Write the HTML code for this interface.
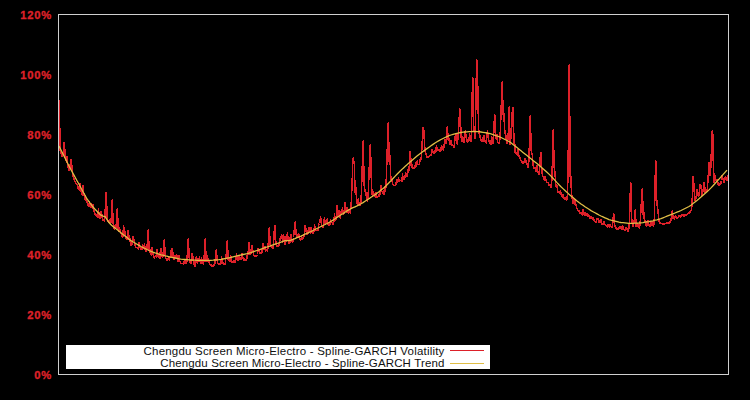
<!DOCTYPE html>
<html><head><meta charset="utf-8"><title>Spline-GARCH</title>
<style>
html,body{margin:0;padding:0;background:#000;}
#c{position:relative;width:750px;height:400px;background:#000;overflow:hidden;font-family:"Liberation Sans",sans-serif;}
.t{position:absolute;left:0;width:52px;-webkit-text-stroke:0.35px #dd2029;text-align:right;color:#dd2029;font-weight:bold;font-size:11.2px;letter-spacing:0.8px;line-height:14px;height:14px;}
#b{position:absolute;left:58px;top:14px;width:671px;height:361px;border:1px solid #cfcfcf;box-sizing:border-box;}
svg{position:absolute;left:0;top:0;}
#lg{position:absolute;left:66px;top:345px;width:424px;height:24px;background:#fff;}
.l{position:absolute;right:45.5px;white-space:nowrap;color:#111;font-size:11.5px;line-height:13px;letter-spacing:0.2px;}
</style></head><body>
<div id="c">
<div class="t" style="top:7.7px">120%</div><div class="t" style="top:67.7px">100%</div><div class="t" style="top:127.7px">80%</div><div class="t" style="top:187.7px">60%</div><div class="t" style="top:247.7px">40%</div><div class="t" style="top:307.7px">20%</div><div class="t" style="top:367.7px">0%</div>
<svg width="750" height="400" viewBox="0 0 750 400">
<path d="M59.0,100.0 L59.5,101.0 L60.0,150.1 L60.5,151.8 L61.0,152.4 L61.5,156.2 L62.0,157.1 L62.5,153.1 L63.0,155.3 L63.5,149.6 L64.0,142.0 L64.5,143.0 L65.0,154.3 L65.5,160.9 L66.0,156.5 L66.5,163.4 L67.0,156.0 L67.5,163.1 L68.0,166.5 L68.5,170.1 L69.0,171.0 L69.5,164.5 L70.0,168.2 L70.5,165.2 L71.0,159.0 L71.5,159.9 L72.0,168.8 L72.5,173.2 L73.0,176.4 L73.5,177.4 L74.0,178.9 L74.5,180.8 L75.0,181.6 L75.5,182.8 L76.0,183.7 L76.5,184.6 L77.0,184.4 L77.5,185.6 L78.0,188.7 L78.5,185.8 L79.0,188.2 L79.5,190.9 L80.0,182.8 L80.5,187.6 L81.0,191.5 L81.5,192.7 L82.0,194.9 L82.5,195.1 L83.0,185.2 L83.5,191.3 L84.0,194.3 L84.5,197.9 L85.0,199.8 L85.5,195.0 L86.0,200.7 L86.5,200.4 L87.0,202.2 L87.5,202.9 L88.0,205.1 L88.5,206.6 L89.0,206.0 L89.5,201.0 L90.0,204.1 L90.5,207.2 L91.0,208.2 L91.5,203.1 L92.0,207.0 L92.5,208.6 L93.0,203.9 L93.5,208.7 L94.0,210.9 L94.5,212.9 L95.0,215.1 L95.5,213.7 L96.0,215.4 L96.5,216.3 L97.0,215.9 L97.5,217.4 L98.0,217.3 L98.5,207.9 L99.0,215.2 L99.5,216.1 L100.0,218.5 L100.5,217.4 L101.0,211.5 L101.5,210.9 L102.0,216.4 L102.5,218.7 L103.0,220.4 L103.5,219.0 L104.0,220.6 L104.5,221.6 L105.0,213.1 L105.5,204.9 L106.0,192.0 L106.5,192.7 L107.0,217.3 L107.5,220.5 L108.0,221.2 L108.5,222.7 L109.0,222.1 L109.5,219.1 L110.0,222.9 L110.5,220.6 L111.0,223.0 L111.5,213.0 L112.0,200.0 L112.5,200.4 L113.0,223.4 L113.5,223.9 L114.0,226.7 L114.5,230.0 L115.0,225.7 L115.5,228.5 L116.0,227.9 L116.5,219.7 L117.0,209.0 L117.5,209.4 L118.0,224.9 L118.5,232.3 L119.0,227.8 L119.5,227.2 L120.0,230.5 L120.5,233.5 L121.0,233.5 L121.5,233.6 L122.0,235.6 L122.5,237.9 L123.0,236.1 L123.5,225.0 L124.0,228.0 L124.5,228.4 L125.0,233.3 L125.5,236.0 L126.0,238.3 L126.5,237.6 L127.0,239.6 L127.5,232.5 L128.0,231.2 L128.5,229.7 L129.0,239.6 L129.5,235.7 L130.0,240.3 L130.5,243.6 L131.0,245.6 L131.5,241.4 L132.0,241.9 L132.5,244.5 L133.0,236.0 L133.5,240.5 L134.0,238.7 L134.5,243.7 L135.0,245.4 L135.5,246.4 L136.0,247.5 L136.5,247.3 L137.0,247.2 L137.5,248.8 L138.0,248.5 L138.5,249.9 L139.0,241.9 L139.5,246.4 L140.0,248.2 L140.5,247.3 L141.0,249.6 L141.5,247.7 L142.0,250.3 L142.5,243.7 L143.0,246.1 L143.5,248.4 L144.0,249.0 L144.5,242.6 L145.0,248.5 L145.5,251.6 L146.0,251.8 L146.5,247.9 L147.0,248.7 L147.5,240.5 L148.0,230.0 L148.5,230.3 L149.0,251.0 L149.5,246.8 L150.0,251.7 L150.5,253.1 L151.0,254.8 L151.5,255.1 L152.0,247.4 L152.5,252.7 L153.0,253.4 L153.5,255.4 L154.0,256.1 L154.5,258.7 L155.0,255.9 L155.5,256.0 L156.0,256.0 L156.5,258.1 L157.0,249.3 L157.5,252.6 L158.0,255.4 L158.5,257.9 L159.0,257.7 L159.5,258.3 L160.0,252.4 L160.5,258.8 L161.0,248.1 L161.5,253.1 L162.0,256.1 L162.5,258.2 L163.0,255.5 L163.5,248.7 L164.0,240.0 L164.5,240.1 L165.0,253.1 L165.5,258.5 L166.0,258.2 L166.5,258.9 L167.0,260.1 L167.5,260.1 L168.0,260.1 L168.5,256.4 L169.0,259.7 L169.5,260.3 L170.0,255.8 L170.5,258.3 L171.0,252.6 L171.5,248.1 L172.0,257.0 L172.5,248.5 L173.0,254.7 L173.5,257.7 L174.0,259.7 L174.5,257.0 L175.0,255.0 L175.5,255.6 L176.0,258.2 L176.5,254.1 L177.0,255.6 L177.5,258.4 L178.0,261.2 L178.5,261.6 L179.0,255.2 L179.5,260.1 L180.0,262.1 L180.5,262.1 L181.0,263.3 L181.5,263.5 L182.0,263.4 L182.5,263.6 L183.0,263.7 L183.5,263.5 L184.0,264.2 L184.5,258.7 L185.0,261.7 L185.5,262.1 L186.0,262.7 L186.5,264.1 L187.0,259.3 L187.5,250.4 L188.0,239.0 L188.5,239.1 L189.0,255.7 L189.5,260.1 L190.0,262.9 L190.5,263.5 L191.0,263.1 L191.5,256.7 L192.0,254.2 L192.5,253.0 L193.0,259.1 L193.5,262.5 L194.0,264.0 L194.5,266.3 L195.0,266.2 L195.5,256.6 L196.0,260.6 L196.5,256.1 L197.0,261.4 L197.5,263.4 L198.0,257.7 L198.5,261.9 L199.0,261.1 L199.5,255.6 L200.0,262.3 L200.5,261.4 L201.0,264.1 L201.5,257.3 L202.0,261.5 L202.5,263.8 L203.0,262.4 L203.5,265.1 L204.0,260.2 L204.5,250.9 L205.0,239.0 L205.5,239.0 L206.0,261.6 L206.5,260.3 L207.0,255.0 L207.5,260.5 L208.0,262.0 L208.5,257.9 L209.0,262.3 L209.5,263.9 L210.0,264.4 L210.5,265.5 L211.0,265.3 L211.5,264.9 L212.0,267.2 L212.5,265.7 L213.0,265.7 L213.5,266.4 L214.0,264.6 L214.5,265.1 L215.0,262.2 L215.5,256.9 L216.0,250.0 L216.5,250.0 L217.0,259.3 L217.5,263.3 L218.0,263.1 L218.5,263.9 L219.0,264.7 L219.5,263.8 L220.0,264.5 L220.5,264.0 L221.0,263.3 L221.5,255.8 L222.0,259.5 L222.5,261.8 L223.0,263.3 L223.5,264.0 L224.0,264.7 L224.5,264.3 L225.0,264.9 L225.5,261.9 L226.0,256.7 L226.5,251.2 L227.0,241.0 L227.5,240.9 L228.0,259.4 L228.5,259.2 L229.0,260.5 L229.5,261.8 L230.0,260.9 L230.5,254.8 L231.0,257.6 L231.5,261.9 L232.0,262.3 L232.5,260.8 L233.0,262.6 L233.5,261.0 L234.0,261.0 L234.5,261.5 L235.0,263.2 L235.5,258.8 L236.0,259.1 L236.5,252.8 L237.0,259.4 L237.5,258.8 L238.0,260.3 L238.5,258.8 L239.0,255.2 L239.5,259.8 L240.0,257.3 L240.5,259.6 L241.0,259.5 L241.5,256.5 L242.0,253.2 L242.5,255.2 L243.0,258.3 L243.5,260.4 L244.0,259.6 L244.5,257.8 L245.0,260.3 L245.5,260.5 L246.0,260.3 L246.5,258.3 L247.0,259.2 L247.5,251.5 L248.0,255.4 L248.5,249.7 L249.0,242.4 L249.5,242.3 L250.0,254.9 L250.5,254.3 L251.0,253.1 L251.5,251.3 L252.0,245.4 L252.5,251.9 L253.0,250.1 L253.5,254.3 L254.0,255.8 L254.5,256.3 L255.0,256.1 L255.5,255.5 L256.0,256.5 L256.5,255.4 L257.0,255.9 L257.5,254.5 L258.0,248.3 L258.5,250.5 L259.0,249.9 L259.5,253.4 L260.0,253.1 L260.5,252.8 L261.0,252.1 L261.5,253.3 L262.0,252.4 L262.5,245.3 L263.0,242.7 L263.5,248.9 L264.0,249.4 L264.5,245.8 L265.0,247.3 L265.5,252.4 L266.0,249.1 L266.5,249.5 L267.0,250.0 L267.5,252.2 L268.0,246.8 L268.5,238.6 L269.0,228.0 L269.5,227.8 L270.0,243.5 L270.5,245.9 L271.0,245.4 L271.5,247.9 L272.0,247.7 L272.5,248.8 L273.0,248.6 L273.5,244.7 L274.0,236.3 L274.5,225.6 L275.0,225.4 L275.5,239.0 L276.0,243.2 L276.5,246.0 L277.0,246.5 L277.5,245.9 L278.0,246.7 L278.5,242.7 L279.0,245.2 L279.5,244.9 L280.0,237.8 L280.5,238.7 L281.0,237.5 L281.5,235.0 L282.0,234.8 L282.5,242.7 L283.0,239.6 L283.5,233.7 L284.0,238.7 L284.5,242.0 L285.0,244.6 L285.5,235.9 L286.0,241.8 L286.5,236.3 L287.0,236.4 L287.5,232.0 L288.0,239.4 L288.5,243.2 L289.0,244.0 L289.5,236.9 L290.0,242.2 L290.5,242.0 L291.0,234.3 L291.5,239.3 L292.0,241.6 L292.5,242.5 L293.0,241.0 L293.5,237.5 L294.0,232.8 L294.5,227.4 L295.0,222.0 L295.5,221.8 L296.0,234.5 L296.5,233.8 L297.0,237.8 L297.5,237.7 L298.0,235.7 L298.5,233.4 L299.0,235.5 L299.5,239.2 L300.0,238.9 L300.5,240.2 L301.0,239.7 L301.5,235.7 L302.0,238.4 L302.5,239.3 L303.0,239.0 L303.5,237.2 L304.0,236.2 L304.5,231.5 L305.0,225.6 L305.5,225.4 L306.0,229.7 L306.5,233.5 L307.0,234.0 L307.5,235.2 L308.0,231.9 L308.5,227.7 L309.0,227.5 L309.5,232.3 L310.0,229.4 L310.5,234.2 L311.0,227.5 L311.5,231.7 L312.0,232.9 L312.5,231.6 L313.0,233.8 L313.5,230.0 L314.0,232.2 L314.5,224.5 L315.0,228.1 L315.5,229.7 L316.0,230.9 L316.5,230.7 L317.0,230.1 L317.5,231.1 L318.0,230.4 L318.5,227.4 L319.0,223.7 L319.5,223.5 L320.0,222.0 L320.5,216.4 L321.0,220.2 L321.5,225.5 L322.0,226.7 L322.5,227.6 L323.0,227.1 L323.5,224.7 L324.0,220.5 L324.5,217.5 L325.0,223.0 L325.5,225.2 L326.0,221.5 L326.5,223.0 L327.0,219.0 L327.5,218.8 L328.0,224.7 L328.5,225.4 L329.0,225.1 L329.5,224.8 L330.0,225.2 L330.5,219.3 L331.0,221.7 L331.5,222.3 L332.0,222.1 L332.5,223.0 L333.0,224.4 L333.5,223.2 L334.0,221.5 L334.5,213.2 L335.0,218.8 L335.5,220.6 L336.0,218.9 L336.5,213.1 L337.0,205.6 L337.5,205.3 L338.0,216.8 L338.5,210.8 L339.0,210.7 L339.5,215.5 L340.0,217.1 L340.5,218.5 L341.0,211.3 L341.5,211.4 L342.0,212.6 L342.5,206.8 L343.0,211.8 L343.5,213.9 L344.0,214.2 L344.5,209.0 L345.0,202.4 L345.5,202.1 L346.0,210.5 L346.5,208.8 L347.0,212.6 L347.5,207.0 L348.0,210.5 L348.5,213.8 L349.0,209.0 L349.5,210.4 L350.0,212.9 L350.5,213.0 L351.0,206.4 L351.5,197.5 L352.0,185.4 L352.5,171.7 L353.0,158.0 L353.5,157.8 L354.0,163.0 L354.5,162.8 L355.0,193.3 L355.5,191.0 L356.0,186.9 L356.5,203.0 L357.0,202.7 L357.5,205.2 L358.0,200.3 L358.5,198.6 L359.0,204.4 L359.5,205.1 L360.0,204.6 L360.5,205.9 L361.0,200.3 L361.5,189.5 L362.0,174.6 L362.5,157.8 L363.0,141.0 L363.5,140.7 L364.0,186.2 L364.5,184.7 L365.0,192.1 L365.5,189.2 L366.0,193.7 L366.5,197.2 L367.0,200.1 L367.5,201.7 L368.0,197.1 L368.5,187.5 L369.0,174.5 L369.5,159.8 L370.0,145.0 L370.5,144.7 L371.0,168.5 L371.5,185.8 L372.0,192.3 L372.5,196.6 L373.0,192.0 L373.5,192.0 L374.0,193.9 L374.5,195.3 L375.0,196.7 L375.5,197.9 L376.0,192.3 L376.5,194.0 L377.0,197.9 L377.5,197.4 L378.0,196.5 L378.5,195.9 L379.0,196.4 L379.5,191.5 L380.0,194.5 L380.5,195.2 L381.0,185.0 L381.5,190.2 L382.0,191.2 L382.5,191.4 L383.0,193.5 L383.5,194.6 L384.0,194.0 L384.5,186.1 L385.0,190.4 L385.5,191.5 L386.0,185.1 L386.5,173.7 L387.0,158.2 L387.5,140.6 L388.0,123.0 L388.5,122.7 L389.0,158.1 L389.5,164.6 L390.0,155.1 L390.5,174.2 L391.0,177.7 L391.5,182.3 L392.0,179.5 L392.5,183.8 L393.0,184.6 L393.5,185.2 L394.0,186.1 L394.5,185.3 L395.0,185.7 L395.5,185.3 L396.0,184.6 L396.5,179.2 L397.0,182.1 L397.5,181.5 L398.0,181.5 L398.5,177.4 L399.0,181.3 L399.5,181.8 L400.0,180.0 L400.5,181.0 L401.0,180.2 L401.5,181.4 L402.0,181.7 L402.5,173.2 L403.0,177.5 L403.5,177.8 L404.0,179.9 L404.5,175.8 L405.0,178.4 L405.5,171.9 L406.0,173.8 L406.5,174.7 L407.0,176.9 L407.5,169.5 L408.0,172.7 L408.5,172.5 L409.0,170.0 L409.5,162.0 L410.0,152.0 L410.5,151.6 L411.0,164.0 L411.5,167.6 L412.0,163.8 L412.5,168.8 L413.0,168.2 L413.5,167.9 L414.0,168.4 L414.5,165.0 L415.0,168.4 L415.5,161.6 L416.0,165.4 L416.5,166.3 L417.0,160.6 L417.5,163.8 L418.0,164.8 L418.5,164.1 L419.0,164.5 L419.5,164.3 L420.0,159.3 L420.5,159.5 L421.0,159.9 L421.5,154.0 L422.0,146.0 L422.5,137.0 L423.0,128.0 L423.5,127.6 L424.0,132.0 L424.5,145.5 L425.0,149.0 L425.5,155.1 L426.0,153.6 L426.5,157.1 L427.0,156.8 L427.5,157.2 L428.0,157.0 L428.5,156.8 L429.0,156.7 L429.5,154.9 L430.0,156.0 L430.5,154.6 L431.0,155.4 L431.5,154.9 L432.0,148.8 L432.5,151.8 L433.0,151.8 L433.5,153.7 L434.0,153.5 L434.5,150.7 L435.0,149.9 L435.5,153.3 L436.0,149.9 L436.5,145.4 L437.0,148.9 L437.5,149.2 L438.0,150.3 L438.5,150.1 L439.0,150.3 L439.5,148.8 L440.0,151.3 L440.5,150.8 L441.0,150.2 L441.5,145.1 L442.0,147.4 L442.5,147.0 L443.0,150.3 L443.5,148.9 L444.0,144.6 L444.5,148.0 L445.0,138.7 L445.5,142.9 L446.0,143.9 L446.5,136.5 L447.0,127.0 L447.5,126.8 L448.0,138.1 L448.5,140.7 L449.0,138.5 L449.5,139.9 L450.0,144.8 L450.5,142.8 L451.0,140.6 L451.5,142.1 L452.0,145.9 L452.5,144.7 L453.0,145.8 L453.5,144.9 L454.0,147.6 L454.5,146.3 L455.0,136.0 L455.5,141.2 L456.0,133.2 L456.5,140.9 L457.0,142.6 L457.5,144.4 L458.0,137.1 L458.5,129.2 L459.0,125.0 L459.5,109.0 L460.0,108.9 L460.5,137.6 L461.0,126.8 L461.5,137.4 L462.0,142.2 L462.5,136.4 L463.0,139.8 L463.5,141.2 L464.0,143.3 L464.5,130.7 L465.0,138.3 L465.5,130.5 L466.0,137.5 L466.5,138.3 L467.0,140.4 L467.5,142.5 L468.0,141.9 L468.5,139.4 L469.0,141.1 L469.5,133.3 L470.0,136.0 L470.5,141.2 L471.0,142.1 L471.5,129.9 L472.0,107.2 L472.5,78.0 L473.0,78.0 L473.5,119.7 L474.0,131.8 L474.5,127.7 L475.0,138.9 L475.5,126.1 L476.0,97.2 L476.5,60.0 L477.0,60.0 L477.5,68.2 L478.0,101.7 L478.5,126.3 L479.0,132.9 L479.5,135.3 L480.0,135.9 L480.5,140.3 L481.0,139.5 L481.5,140.3 L482.0,141.3 L482.5,137.4 L483.0,141.4 L483.5,142.1 L484.0,135.1 L484.5,138.3 L485.0,142.1 L485.5,141.3 L486.0,141.9 L486.5,143.5 L487.0,133.9 L487.5,129.6 L488.0,135.5 L488.5,139.9 L489.0,141.3 L489.5,143.3 L490.0,143.9 L490.5,142.4 L491.0,144.6 L491.5,135.9 L492.0,137.5 L492.5,142.4 L493.0,144.1 L493.5,138.0 L494.0,128.0 L494.5,115.0 L495.0,115.1 L495.5,139.3 L496.0,137.2 L496.5,139.4 L497.0,134.1 L497.5,140.9 L498.0,143.0 L498.5,143.0 L499.0,143.3 L499.5,143.4 L500.0,137.3 L500.5,127.3 L501.0,113.4 L501.5,97.7 L502.0,82.0 L502.5,82.2 L503.0,114.5 L503.5,111.5 L504.0,115.2 L504.5,128.5 L505.0,131.3 L505.5,136.5 L506.0,135.6 L506.5,141.0 L507.0,143.6 L507.5,135.7 L508.0,140.3 L508.5,125.8 L509.0,107.0 L509.5,107.4 L510.0,145.1 L510.5,139.6 L511.0,138.6 L511.5,129.0 L512.0,118.0 L512.5,107.0 L513.0,107.6 L513.5,143.7 L514.0,140.7 L514.5,133.5 L515.0,153.4 L515.5,151.3 L516.0,153.4 L516.5,152.8 L517.0,154.0 L517.5,156.2 L518.0,148.6 L518.5,152.5 L519.0,156.5 L519.5,156.0 L520.0,158.6 L520.5,159.9 L521.0,160.7 L521.5,161.1 L522.0,161.6 L522.5,163.3 L523.0,162.2 L523.5,163.0 L524.0,163.0 L524.5,158.7 L525.0,158.1 L525.5,162.4 L526.0,160.1 L526.5,163.3 L527.0,163.4 L527.5,165.9 L528.0,167.5 L528.5,167.5 L529.0,157.0 L529.5,139.1 L530.0,116.0 L530.5,116.4 L531.0,147.3 L531.5,153.4 L532.0,152.8 L532.5,157.2 L533.0,164.6 L533.5,167.8 L534.0,168.4 L534.5,168.9 L535.0,166.7 L535.5,171.1 L536.0,171.7 L536.5,165.9 L537.0,164.9 L537.5,169.9 L538.0,172.0 L538.5,173.3 L539.0,175.1 L539.5,171.0 L540.0,162.7 L540.5,152.0 L541.0,152.5 L541.5,168.9 L542.0,170.3 L542.5,176.6 L543.0,176.5 L543.5,177.8 L544.0,179.2 L544.5,180.3 L545.0,176.4 L545.5,177.7 L546.0,180.9 L546.5,181.1 L547.0,182.8 L547.5,182.5 L548.0,182.3 L548.5,184.0 L549.0,185.8 L549.5,185.4 L550.0,184.7 L550.5,186.8 L551.0,187.1 L551.5,187.4 L552.0,176.0 L552.5,155.9 L553.0,130.0 L553.5,130.5 L554.0,168.1 L554.5,166.5 L555.0,174.4 L555.5,179.9 L556.0,187.0 L556.5,186.7 L557.0,184.6 L557.5,189.5 L558.0,192.3 L558.5,191.8 L559.0,192.2 L559.5,192.2 L560.0,194.2 L560.5,189.9 L561.0,193.7 L561.5,195.2 L562.0,195.9 L562.5,197.4 L563.0,194.6 L563.5,196.4 L564.0,198.0 L564.5,199.6 L565.0,197.6 L565.5,199.2 L566.0,198.6 L566.5,201.0 L567.0,199.4 L567.5,193.5 L568.0,174.8 L568.5,126.8 L569.0,65.0 L569.5,65.4 L570.0,165.7 L570.5,187.8 L571.0,176.5 L571.5,193.4 L572.0,197.1 L572.5,201.2 L573.0,203.5 L573.5,197.9 L574.0,201.2 L574.5,205.3 L575.0,198.7 L575.5,204.2 L576.0,204.0 L576.5,208.2 L577.0,208.2 L577.5,208.6 L578.0,211.2 L578.5,210.3 L579.0,210.6 L579.5,213.3 L580.0,213.4 L580.5,212.1 L581.0,213.4 L581.5,213.2 L582.0,213.3 L582.5,215.5 L583.0,209.5 L583.5,213.2 L584.0,213.9 L584.5,215.5 L585.0,211.9 L585.5,213.9 L586.0,215.3 L586.5,216.2 L587.0,213.4 L587.5,215.3 L588.0,216.8 L588.5,213.9 L589.0,216.2 L589.5,218.5 L590.0,217.3 L590.5,215.7 L591.0,218.8 L591.5,215.9 L592.0,218.4 L592.5,219.4 L593.0,217.7 L593.5,218.3 L594.0,220.0 L594.5,220.4 L595.0,222.0 L595.5,221.4 L596.0,222.9 L596.5,222.4 L597.0,217.9 L597.5,218.8 L598.0,218.0 L598.5,220.0 L599.0,222.5 L599.5,222.4 L600.0,219.7 L600.5,222.5 L601.0,219.3 L601.5,222.3 L602.0,224.4 L602.5,223.9 L603.0,224.7 L603.5,224.6 L604.0,220.9 L604.5,223.4 L605.0,224.8 L605.5,225.0 L606.0,225.9 L606.5,225.5 L607.0,226.0 L607.5,227.6 L608.0,223.9 L608.5,225.8 L609.0,225.8 L609.5,227.8 L610.0,224.1 L610.5,226.6 L611.0,226.8 L611.5,227.1 L612.0,227.5 L612.5,225.3 L613.0,220.4 L613.5,214.0 L614.0,214.1 L614.5,222.9 L615.0,227.2 L615.5,227.1 L616.0,228.0 L616.5,228.6 L617.0,229.1 L617.5,229.2 L618.0,229.1 L618.5,228.7 L619.0,227.5 L619.5,226.5 L620.0,227.8 L620.5,229.1 L621.0,226.1 L621.5,228.3 L622.0,229.6 L622.5,225.1 L623.0,226.6 L623.5,228.4 L624.0,229.1 L624.5,230.2 L625.0,230.9 L625.5,227.0 L626.0,227.3 L626.5,229.3 L627.0,229.2 L627.5,229.2 L628.0,231.4 L628.5,230.8 L629.0,227.0 L629.5,220.9 L630.0,204.3 L630.5,183.0 L631.0,182.9 L631.5,215.0 L632.0,221.5 L632.5,224.8 L633.0,226.8 L633.5,224.9 L634.0,221.0 L634.5,218.9 L635.0,210.0 L635.5,209.9 L636.0,227.4 L636.5,223.2 L637.0,226.5 L637.5,223.0 L638.0,224.7 L638.5,226.6 L639.0,226.9 L639.5,228.8 L640.0,224.3 L640.5,217.8 L641.0,209.0 L641.5,199.0 L642.0,189.0 L642.5,188.9 L643.0,210.6 L643.5,219.1 L644.0,211.7 L644.5,220.4 L645.0,220.5 L645.5,222.4 L646.0,224.3 L646.5,227.0 L647.0,220.8 L647.5,226.3 L648.0,220.1 L648.5,223.3 L649.0,226.1 L649.5,225.3 L650.0,227.0 L650.5,221.3 L651.0,224.6 L651.5,225.9 L652.0,220.8 L652.5,223.8 L653.0,224.2 L653.5,227.3 L654.0,223.6 L654.5,213.7 L655.0,190.6 L655.5,161.0 L656.0,160.9 L656.5,192.7 L657.0,206.2 L657.5,206.2 L658.0,210.8 L658.5,216.0 L659.0,221.0 L659.5,222.7 L660.0,222.8 L660.5,224.2 L661.0,223.1 L661.5,223.4 L662.0,223.9 L662.5,224.5 L663.0,223.9 L663.5,223.8 L664.0,224.2 L664.5,223.9 L665.0,224.0 L665.5,223.3 L666.0,223.7 L666.5,223.5 L667.0,223.0 L667.5,223.5 L668.0,223.2 L668.5,223.2 L669.0,223.0 L669.5,222.8 L670.0,221.7 L670.5,222.1 L671.0,219.7 L671.5,215.9 L672.0,211.0 L672.5,210.8 L673.0,218.9 L673.5,218.7 L674.0,218.7 L674.5,219.6 L675.0,217.2 L675.5,215.6 L676.0,217.1 L676.5,216.9 L677.0,218.2 L677.5,218.1 L678.0,217.5 L678.5,218.1 L679.0,215.7 L679.5,216.4 L680.0,216.6 L680.5,217.9 L681.0,215.3 L681.5,216.7 L682.0,214.1 L682.5,215.3 L683.0,213.9 L683.5,215.9 L684.0,215.8 L684.5,216.1 L685.0,214.8 L685.5,215.1 L686.0,215.4 L686.5,214.9 L687.0,214.8 L687.5,214.7 L688.0,213.5 L688.5,213.6 L689.0,213.6 L689.5,210.9 L690.0,212.1 L690.5,211.9 L691.0,210.5 L691.5,211.1 L692.0,204.2 L692.5,192.2 L693.0,177.0 L693.5,176.4 L694.0,188.4 L694.5,195.8 L695.0,200.6 L695.5,199.8 L696.0,198.6 L696.5,194.3 L697.0,190.0 L697.5,189.4 L698.0,194.4 L698.5,197.3 L699.0,194.3 L699.5,189.6 L700.0,185.0 L700.5,184.6 L701.0,186.2 L701.5,190.8 L702.0,195.6 L702.5,193.0 L703.0,191.6 L703.5,187.3 L704.0,183.0 L704.5,182.6 L705.0,193.1 L705.5,187.3 L706.0,191.5 L706.5,190.2 L707.0,192.1 L707.5,186.7 L708.0,179.4 L708.5,171.2 L709.0,163.0 L709.5,162.6 L710.0,175.7 L710.5,175.8 L711.0,162.1 L711.5,146.5 L712.0,131.0 L712.5,130.7 L713.0,136.5 L713.5,182.5 L714.0,173.2 L714.5,183.0 L715.0,175.5 L715.5,179.6 L716.0,180.7 L716.5,181.8 L717.0,180.0 L717.5,179.7 L718.0,184.7 L718.5,186.0 L719.0,185.5 L719.5,183.3 L720.0,185.3 L720.5,180.9 L721.0,184.1 L721.5,180.5 L722.0,176.0 L722.5,175.5 L723.0,179.5 L723.5,181.1 L724.0,182.3 L724.5,182.1 L725.0,177.7 L725.5,175.7 L726.0,178.1 L726.5,179.6 L727.0,180.4 L727.5,175.6 L728.0,177.9 L728.5,178.3" fill="none" shape-rendering="crispEdges" stroke="#dd2029" stroke-width="1.5" stroke-linejoin="bevel"/>
<path d="M59.0,146.0 L61.0,150.0 L63.0,154.0 L65.0,158.0 L67.0,162.0 L69.0,166.0 L71.0,169.8 L73.0,173.4 L75.0,177.0 L77.0,180.7 L79.0,184.3 L81.0,188.0 L83.0,191.7 L85.0,195.3 L87.0,199.0 L89.0,201.7 L91.0,204.3 L93.0,207.0 L95.0,209.2 L97.0,211.3 L99.0,213.5 L101.0,215.2 L103.0,216.2 L105.0,216.6 L107.0,219.6 L109.0,222.5 L111.0,224.8 L113.0,226.4 L115.0,228.0 L117.0,229.6 L119.0,231.2 L121.0,232.8 L123.0,234.4 L125.0,236.0 L127.0,237.6 L129.0,239.2 L131.0,240.6 L133.0,241.8 L135.0,243.0 L137.0,244.2 L139.0,245.4 L141.0,246.5 L143.0,247.5 L145.0,248.5 L147.0,249.5 L149.0,250.5 L151.0,251.3 L153.0,252.1 L155.0,252.8 L157.0,253.4 L159.0,254.2 L161.0,254.8 L163.0,255.2 L165.0,255.8 L167.0,256.2 L169.0,256.8 L171.0,257.2 L173.0,257.6 L175.0,258.0 L177.0,258.4 L179.0,258.8 L181.0,259.1 L183.0,259.3 L185.0,259.5 L187.0,259.7 L189.0,259.9 L191.0,260.0 L193.0,260.1 L195.0,260.2 L197.0,260.3 L199.0,260.4 L201.0,260.4 L203.0,260.4 L205.0,260.4 L207.0,260.4 L209.0,260.4 L211.0,260.3 L213.0,260.2 L215.0,260.0 L217.0,259.8 L219.0,259.7 L221.0,259.4 L223.0,259.0 L225.0,258.6 L227.0,258.2 L229.0,257.8 L231.0,257.4 L233.0,256.9 L235.0,256.4 L237.0,255.9 L239.0,255.4 L241.0,255.0 L243.0,254.5 L245.0,254.1 L247.0,253.7 L249.0,253.2 L251.0,252.6 L253.0,251.9 L255.0,251.2 L257.0,250.5 L259.0,249.8 L261.0,249.1 L263.0,248.4 L265.0,247.7 L267.0,247.0 L269.0,246.3 L271.0,245.6 L273.0,244.9 L275.0,244.2 L277.0,243.5 L279.0,242.8 L281.0,242.1 L283.0,241.4 L285.0,240.7 L287.0,240.7 L289.0,240.6 L291.0,240.2 L293.0,239.4 L295.0,238.6 L297.0,237.7 L299.0,236.9 L301.0,236.1 L303.0,235.2 L305.0,234.2 L307.0,233.3 L309.0,232.4 L311.0,231.5 L313.0,230.5 L315.0,229.5 L317.0,228.5 L319.0,227.5 L321.0,226.5 L323.0,225.5 L325.0,224.5 L327.0,223.5 L329.0,222.5 L331.0,221.3 L333.0,220.1 L335.0,218.8 L337.0,217.4 L339.0,216.2 L341.0,214.8 L343.0,213.6 L345.0,212.2 L347.0,210.9 L349.0,209.7 L351.0,208.6 L353.0,207.7 L355.0,206.8 L357.0,205.9 L359.0,204.9 L361.0,203.8 L363.0,202.6 L365.0,201.3 L367.0,200.0 L369.0,198.7 L371.0,197.3 L373.0,196.0 L375.0,194.7 L377.0,193.2 L379.0,191.7 L381.0,190.1 L383.0,188.6 L385.0,187.0 L387.0,184.8 L389.0,182.7 L391.0,180.6 L393.0,178.5 L395.0,176.4 L397.0,174.3 L399.0,172.2 L401.0,170.3 L403.0,168.4 L405.0,166.6 L407.0,164.8 L409.0,162.9 L411.0,161.2 L413.0,159.5 L415.0,157.8 L417.0,156.1 L419.0,154.4 L421.0,152.9 L423.0,151.4 L425.0,150.0 L427.0,148.6 L429.0,147.2 L431.0,145.8 L433.0,144.4 L435.0,143.0 L437.0,141.8 L439.0,140.6 L441.0,139.5 L443.0,138.5 L445.0,137.5 L447.0,136.6 L449.0,135.7 L451.0,135.0 L453.0,134.4 L455.0,133.8 L457.0,133.3 L459.0,132.8 L461.0,132.5 L463.0,132.2 L465.0,132.0 L467.0,131.8 L469.0,131.7 L471.0,131.6 L473.0,131.5 L475.0,131.5 L477.0,131.6 L479.0,131.7 L481.0,132.0 L483.0,132.3 L485.0,132.6 L487.0,133.0 L489.0,133.4 L491.0,133.9 L493.0,134.6 L495.0,135.3 L497.0,136.0 L499.0,136.7 L501.0,137.5 L503.0,138.5 L505.0,139.5 L507.0,140.5 L509.0,141.5 L511.0,142.8 L513.0,144.4 L515.0,146.0 L517.0,147.6 L519.0,149.2 L521.0,150.8 L523.0,152.4 L525.0,154.0 L527.0,155.6 L529.0,157.2 L531.0,158.8 L533.0,160.4 L535.0,162.0 L537.0,163.6 L539.0,165.2 L541.0,166.9 L543.0,168.7 L545.0,170.5 L547.0,172.3 L549.0,174.1 L551.0,176.1 L553.0,178.2 L555.0,180.4 L557.0,182.6 L559.0,184.7 L561.0,186.7 L563.0,188.6 L565.0,190.5 L567.0,192.4 L569.0,194.3 L571.0,196.0 L573.0,197.6 L575.0,199.2 L577.0,200.9 L579.0,202.5 L581.0,204.0 L583.0,205.3 L585.0,206.7 L587.0,208.0 L589.0,209.3 L591.0,210.6 L593.0,211.7 L595.0,212.8 L597.0,213.9 L599.0,215.0 L601.0,216.0 L603.0,216.9 L605.0,217.8 L607.0,218.7 L609.0,219.6 L611.0,220.2 L613.0,220.7 L615.0,221.2 L617.0,221.7 L619.0,222.2 L621.0,222.5 L623.0,222.7 L625.0,222.9 L627.0,223.1 L629.0,223.3 L631.0,223.4 L633.0,223.3 L635.0,223.2 L637.0,223.1 L639.0,223.0 L641.0,222.8 L643.0,222.6 L645.0,222.2 L647.0,221.9 L649.0,221.7 L651.0,221.2 L653.0,220.8 L655.0,220.2 L657.0,219.8 L659.0,219.2 L661.0,218.6 L663.0,217.8 L665.0,217.0 L667.0,216.2 L669.0,215.4 L671.0,214.6 L673.0,213.8 L675.0,213.0 L677.0,212.2 L679.0,211.4 L681.0,210.5 L683.0,209.5 L685.0,208.5 L687.0,207.5 L689.0,206.5 L691.0,205.2 L693.0,203.6 L695.0,202.0 L697.0,200.4 L699.0,198.8 L701.0,197.1 L703.0,195.3 L705.0,193.5 L707.0,191.7 L709.0,189.9 L711.0,187.9 L713.0,185.7 L715.0,183.5 L717.0,181.3 L719.0,179.1 L721.0,176.9 L723.0,174.6 L725.0,172.4 L727.0,170.1" fill="none" stroke="#e0be46" stroke-width="1.3"/>
</svg>
<div id="b"></div>
<div id="lg">
<div class="l" style="top:-0.5px">Chengdu Screen Micro-Electro - Spline-GARCH Volatility</div>
<div class="l" style="top:11.5px;letter-spacing:0.14px">Chengdu Screen Micro-Electro - Spline-GARCH Trend</div>
<svg width="424" height="24" viewBox="0 0 424 24"><path d="M384,5.5H418" stroke="#dd2029" stroke-width="1"/><path d="M384,18.5H418" stroke="#e0be46" stroke-width="1"/></svg>
</div>
</div>
</body></html>
